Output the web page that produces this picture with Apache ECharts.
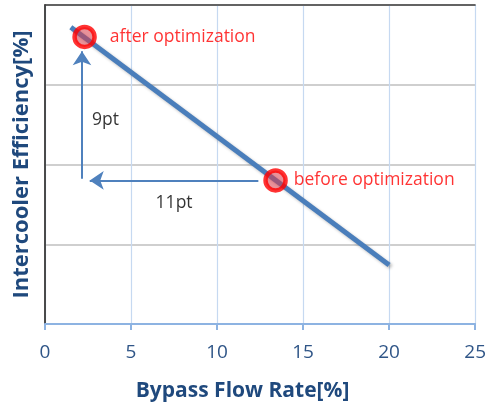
<!DOCTYPE html>
<html>
<head>
<meta charset="utf-8">
<script src="https://cdn.jsdelivr.net/npm/echarts@6/dist/echarts.min.js"></script>
<style>
  html, body { margin: 0; padding: 0; background: #fff; }
  #chart { width: 489px; height: 407px; }
</style>
</head>
<body>
<div id="chart"></div>
<script>
// 趋势线（两端）
const lineX = [1.5, 20];
const lineY = [88.6, 73.7];

// 优化前后两个点
const pointX = [2.3, 13.4];
const pointY = [88, 79];
const pointLabels = ['after optimization', 'before optimization'];

// 箭头：起点 -> 终点
const arrowFrom = [[2.15, 79.1], [12.4, 79]];
const arrowTo = [[2.15, 87.1], [2.6, 79]];

// 箭头旁的说明文字
const noteX = [2.7, 6.4];
const noteY = [82.8, 77.6];
const noteText = ['9pt', '11pt'];

const xTicks = [0, 5, 10, 15, 20, 25];

const FONT = '"Open Sans", "Noto Sans", sans-serif';
const AXIS_BLUE = '#1f497d';

const chart = echarts.init(document.getElementById('chart'));

chart.setOption({
    animation: false,
    grid: { left: 45, right: 7, top: 5, bottom: 82 },
    xAxis: [{
        type: 'value', min: xTicks[0], max: xTicks[xTicks.length - 1], interval: 5,
        name: 'Bypass Flow Rate[%]', nameLocation: 'middle', nameGap: 57,
        nameTextStyle: { fontFamily: FONT, fontSize: 21, fontWeight: 'bold', color: AXIS_BLUE, padding: [0, 35, 0, 0] },
        axisLine: { show: true, lineStyle: { color: '#8db3e2', width: 2 } },
        axisTick: { show: true, length: 6, lineStyle: { color: '#8db3e2', width: 2 } },
        axisLabel: { fontFamily: FONT, fontSize: 19, color: '#2f5587', margin: 19 },
        splitLine: { show: true, lineStyle: { color: '#c6d9f1', width: 1.2 } }
    }, {
        // 顶部边框
        type: 'value', position: 'top', min: 0, max: 25,
        axisLine: { show: true, lineStyle: { color: '#404040', width: 1.5 } },
        axisTick: { show: false }, axisLabel: { show: false }, splitLine: { show: false }
    }],
    yAxis: [{
        type: 'value', min: 70, max: 90, interval: 5,
        name: 'Intercooler Efficiency[%]', nameLocation: 'middle', nameGap: 12,
        nameTextStyle: { fontFamily: FONT, fontSize: 22, fontWeight: 'bold', color: AXIS_BLUE, padding: [0, 0, 0, 0] },
        axisLine: { show: true, lineStyle: { color: '#404040', width: 1.5 } },
        axisTick: { show: false },
        axisLabel: { show: false },
        splitLine: { show: true, lineStyle: { color: '#bfbfbf', width: 1.5 } }
    }, {
        // 右侧边框
        type: 'value', position: 'right', min: 70, max: 90,
        axisLine: { show: true, lineStyle: { color: '#404040', width: 1.5 } },
        axisTick: { show: false }, axisLabel: { show: false }, splitLine: { show: false }
    }],
    series: [{
        type: 'line',
        data: lineX.map((x, i) => [x, lineY[i]]),
        symbol: 'none',
        lineStyle: {
            color: '#4a7ebb', width: 5,
            shadowColor: 'rgba(0,0,0,0.25)', shadowBlur: 3, shadowOffsetX: 2, shadowOffsetY: 2
        },
        z: 2
    }, {
        type: 'lines',
        coordinateSystem: 'cartesian2d',
        data: arrowFrom.map((p, i) => ({ coords: [p, arrowTo[i]] })),
        symbol: ['none', 'arrow'],
        symbolSize: 14,
        lineStyle: { color: '#4f81bd', width: 2, opacity: 1 },
        z: 3
    }, {
        type: 'scatter',
        data: pointX.map((x, i) => ({
            value: [x, pointY[i]],
            label: { distance: i === 0 ? 13 : 6 }
        })),
        symbolSize: 20,
        itemStyle: { color: 'rgba(215,60,75,0.7)', borderColor: '#ff0000', borderWidth: 4.5 },
        label: {
            show: true, position: 'right',
            formatter: p => pointLabels[p.dataIndex],
            fontFamily: FONT, fontSize: 17.5, color: '#ff0000'
        },
        z: 4
    }, {
        type: 'scatter',
        data: noteX.map((x, i) => [x, noteY[i]]),
        symbol: 'circle',
        symbolSize: 1,
        itemStyle: { color: 'rgba(0,0,0,0)' },
        label: {
            show: true, position: 'right', distance: 0,
            formatter: p => noteText[p.dataIndex],
            fontFamily: FONT, fontSize: 17.5, color: '#000'
        },
        z: 4
    }]
});
</script>
</body>
</html>
